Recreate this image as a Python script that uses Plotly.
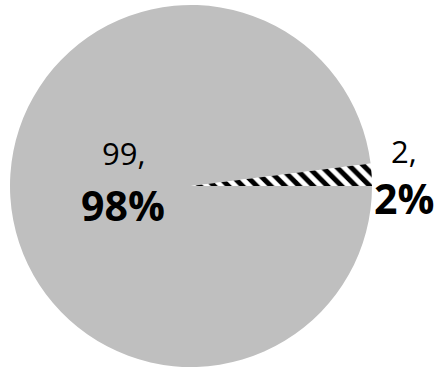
import plotly.graph_objects as go

# Slice data (drawn clockwise from 3 o'clock, so the small slice ends just above it)
labels = ["Major", "Minor"]
values = [99, 2]

W, H = 439, 368
total = sum(values)
pcts = [round(v / total * 100) for v in values]

fig = go.Figure(
    go.Pie(
        labels=labels,
        values=values,
        sort=False,
        direction="clockwise",
        rotation=90,
        textinfo="none",
        hoverinfo="label+value+percent",
        showlegend=False,
        marker=dict(
            colors=["#BFBFBF", "white"],
            line=dict(width=0),
            pattern=dict(
                shape=["", "\\"],
                fgcolor="black",
                bgcolor=["#BFBFBF", "white"],
                size=10,
                solidity=0.5,
            ),
        ),
        domain=dict(x=[10 / W, 372 / W], y=[1 / H, 363 / H]),
    )
)

font_family = "Open Sans, Noto Sans, sans-serif"
# label anchor points (pixels from top-left) for each slice: value line and percent line
label_pos = {
    "Major": (123, 153, 205),
    "Minor": (404, 151, 198),
}
annotations = []
for lab, v, p in zip(labels, values, pcts):
    x, y1, y2 = label_pos[lab]
    annotations.append(dict(
        x=x / W, y=1 - y1 / H, xref="paper", yref="paper",
        text=f"{v},", showarrow=False, xanchor="center", yanchor="middle",
        font=dict(family=font_family, size=31, color="black"),
    ))
    annotations.append(dict(
        x=x / W, y=1 - y2 / H, xref="paper", yref="paper",
        text=f"<b>{p}%</b>", showarrow=False, xanchor="center", yanchor="middle",
        font=dict(family=font_family, size=41, color="black"),
    ))

fig.update_layout(
    width=W,
    height=H,
    margin=dict(l=0, r=0, t=0, b=0),
    paper_bgcolor="white",
    plot_bgcolor="white",
    annotations=annotations,
)

fig.write_html("out.html")
